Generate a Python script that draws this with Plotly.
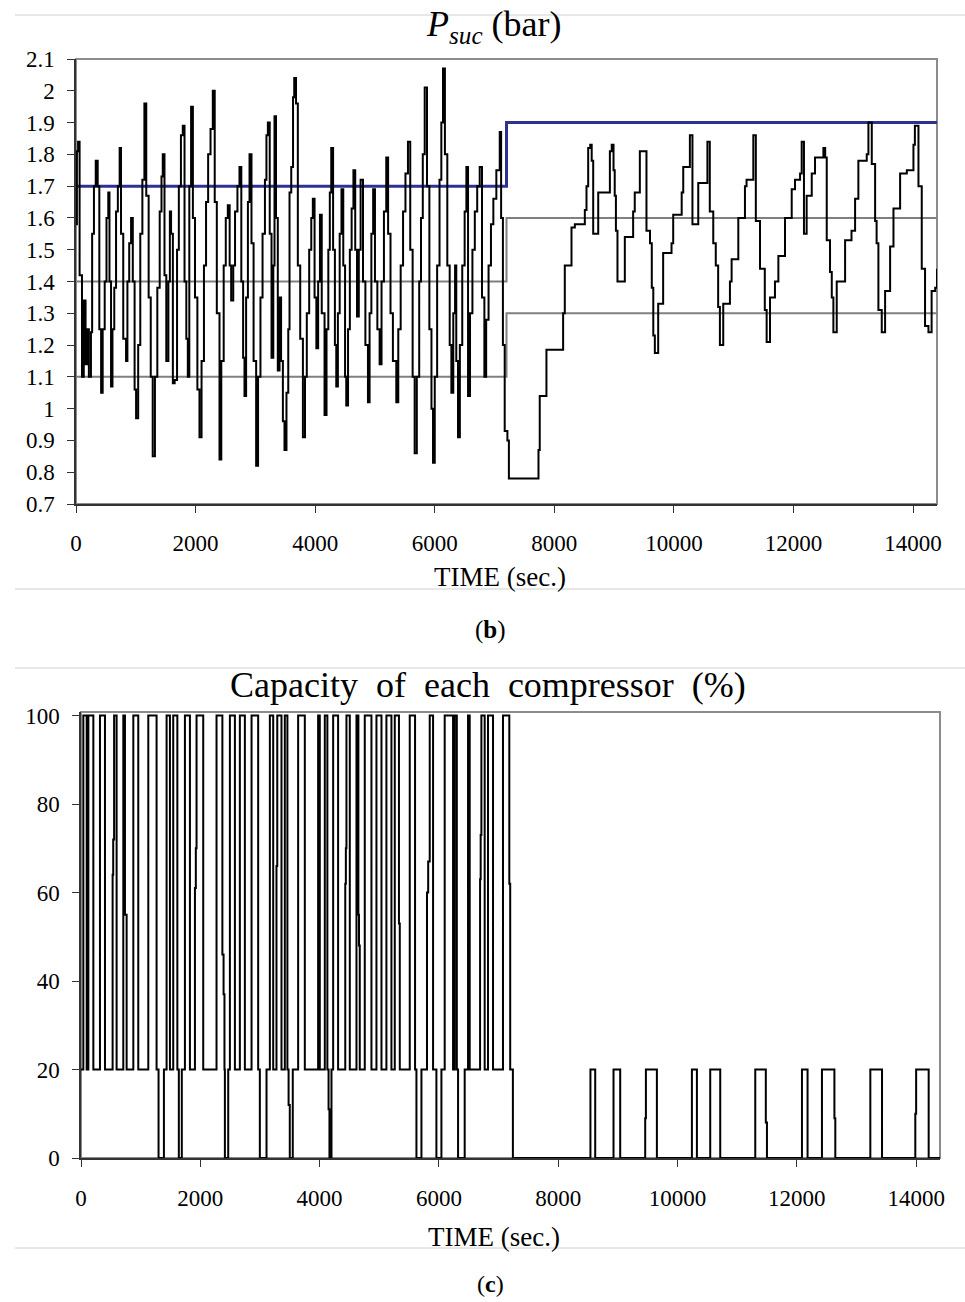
import plotly.graph_objects as go

# ---------------- Suction pressure (bar) ----------------
# first two hours, setpoint 1.7 bar
psuc_t_a = [
    0, 15, 35, 60, 100, 130, 160, 190, 215, 250,
    270, 300, 330, 363, 390, 420, 446, 480, 510, 540,
    560, 586, 610, 640, 670, 700, 730, 753, 790, 837,
    860, 890, 921, 950, 980, 1005, 1040, 1075, 1110, 1144,
    1175, 1215, 1250, 1283, 1320, 1360, 1400, 1430, 1451, 1480,
    1510, 1545, 1570, 1590, 1620, 1650, 1690, 1720, 1755, 1786,
    1815, 1845, 1870, 1895, 1925, 1955, 1990, 2030, 2065, 2100,
    2140, 2175, 2210, 2250, 2288, 2320, 2355, 2400, 2430, 2470,
    2505, 2539, 2570, 2595, 2630, 2660, 2700, 2734, 2765, 2795,
    2818, 2845, 2875, 2902, 2935, 2970, 3013, 3045, 3085, 3120,
    3160, 3185, 3209, 3240, 3270, 3300, 3320, 3345, 3375, 3404,
    3430, 3460, 3487, 3520, 3550, 3571, 3600, 3630, 3650, 3680,
    3710, 3750, 3795, 3830, 3860, 3900, 3935, 3961, 3990, 4020,
    4050, 4080, 4110, 4157, 4190, 4220, 4245, 4269, 4300, 4330,
    4353, 4380, 4410, 4440, 4470, 4500, 4520, 4550, 4580, 4610,
    4640, 4670, 4700, 4730, 4760, 4800, 4840, 4883, 4910, 4940,
    4970, 5000, 5040, 5078, 5110, 5150, 5189, 5220, 5260, 5300,
    5357, 5390, 5430, 5470, 5510, 5552, 5590, 5630, 5664, 5700,
    5740, 5770, 5800, 5832, 5870, 5910, 5945, 5971, 6000, 6040,
    6080, 6110, 6138, 6170, 6210, 6250, 6278, 6310, 6340, 6360,
    6389, 6420, 6460, 6500, 6529, 6557, 6590, 6630, 6670, 6710,
    6752, 6790, 6830, 6860, 6900, 6940, 6980, 7030, 7087, 7110,
    7140, 7170, 7215, 7240,
]
psuc_p_a = [
    1.58, 1.81, 1.84, 1.42, 1.10, 1.34, 1.14, 1.25, 1.10, 1.24,
    1.55, 1.70, 1.78, 1.70, 1.25, 1.05, 1.25, 1.40, 1.60, 1.68,
    1.40, 1.07, 1.25, 1.38, 1.62, 1.70, 1.82, 1.55, 1.22, 1.15,
    1.40, 1.52, 1.60, 1.40, 1.06, 0.97, 1.20, 1.55, 1.72, 1.96,
    1.67, 1.35, 1.10, 0.85, 1.10, 1.38, 1.62, 1.73, 1.80, 1.42,
    1.15, 1.40, 1.62, 1.55, 1.08, 1.09, 1.50, 1.70, 1.86, 1.89,
    1.40, 1.22, 1.10, 1.70, 1.95, 1.60, 1.35, 1.06, 0.91, 1.15,
    1.45, 1.65, 1.80, 1.88, 2.00, 1.65, 1.30, 0.84, 1.15, 1.45,
    1.60, 1.64, 1.45, 1.34, 1.45, 1.62, 1.70, 1.76, 1.40, 1.16,
    1.04, 1.35, 1.65, 1.80, 1.52, 1.15, 0.82, 1.10, 1.35, 1.55,
    1.72, 1.86, 1.90, 1.55, 1.16, 1.45, 1.92, 1.60, 1.12, 1.35,
    1.15, 0.96, 0.87, 1.05, 1.25, 1.68, 1.76, 1.98, 2.04, 1.96,
    1.45, 1.22, 0.91, 1.10, 1.30, 1.50, 1.60, 1.66, 1.35, 1.19,
    1.40, 1.61, 1.30, 0.98, 1.25, 1.50, 1.68, 1.82, 1.50, 1.20,
    1.07, 1.30, 1.55, 1.69, 1.45, 1.10, 1.01, 1.25, 1.50, 1.63,
    1.75, 1.50, 1.29, 1.50, 1.72, 1.40, 1.20, 1.02, 1.30, 1.55,
    1.69, 1.40, 1.25, 1.14, 1.40, 1.62, 1.79, 1.55, 1.30, 1.15,
    1.02, 1.25, 1.45, 1.62, 1.74, 1.84, 1.50, 1.10, 0.86, 1.10,
    1.40, 1.60, 1.80, 2.01, 1.70, 1.25, 1.00, 0.83, 1.10, 1.45,
    1.72, 1.90, 2.07, 1.80, 1.45, 1.20, 1.05, 1.30, 1.45, 1.15,
    0.91, 1.20, 1.45, 1.62, 1.76, 1.04, 1.30, 1.50, 1.62, 1.70,
    1.76, 1.35, 1.10, 1.28, 1.45, 1.58, 1.66, 1.75, 1.87, 1.60,
    1.20, 0.93, 0.90, 0.78,
]
# last two hours, setpoint 1.9 bar
psuc_t_b = [
    7735, 7756, 7868, 8147, 8175, 8287, 8343, 8510, 8538, 8566,
    8600, 8625, 8650, 8706, 8734, 8929, 8960, 8990, 9010, 9030,
    9056, 9179, 9318, 9345, 9430, 9541, 9600, 9630, 9655, 9681,
    9737, 9820, 9960, 9988, 10130, 10156, 10267, 10310, 10407, 10560,
    10600, 10658, 10700, 10740, 10769, 10825, 10937, 10965, 11077, 11188,
    11215, 11328, 11370, 11440, 11520, 11551, 11607, 11690, 11747, 11858,
    11970, 12025, 12110, 12137, 12175, 12220, 12305, 12360, 12500, 12530,
    12556, 12611, 12640, 12667, 12723, 12863, 12970, 13030, 13085, 13225,
    13253, 13309, 13365, 13390, 13420, 13476, 13532, 13616, 13672, 13783,
    13895, 14006, 14030, 14090, 14145, 14200, 14257, 14310, 14370, 14400,
]
psuc_p_b = [
    0.87, 1.04, 1.185, 1.30, 1.45, 1.57, 1.58, 1.625, 1.70, 1.82,
    1.83, 1.78, 1.55, 1.55, 1.68, 1.81, 1.83, 1.75, 1.67, 1.56,
    1.40, 1.54, 1.62, 1.68, 1.81, 1.56, 1.52, 1.38, 1.23, 1.175,
    1.33, 1.49, 1.52, 1.61, 1.68, 1.76, 1.86, 1.58, 1.71, 1.84,
    1.62, 1.52, 1.45, 1.32, 1.20, 1.33, 1.40, 1.47, 1.60, 1.70,
    1.72, 1.86, 1.59, 1.44, 1.31, 1.21, 1.35, 1.40, 1.48, 1.60,
    1.69, 1.72, 1.74, 1.84, 1.55, 1.67, 1.74, 1.79, 1.82, 1.79,
    1.53, 1.43, 1.35, 1.24, 1.40, 1.53, 1.56, 1.66, 1.78, 1.80,
    1.90, 1.77, 1.59, 1.52, 1.31, 1.24, 1.37, 1.51, 1.63, 1.74,
    1.75, 1.83, 1.89, 1.70, 1.44, 1.26, 1.24, 1.37, 1.38, 1.44,
]

# control band: setpoint and the two stage-switching limits
band_t = [0, 7200, 14400]
setpoint_bar = [1.7, 1.9, 1.9]
upper_limit_bar = [1.4, 1.6, 1.6]
lower_limit_bar = [1.1, 1.3, 1.3]

# ---------------- Compressor capacity (%) ----------------
cap_t = [
    0, 39, 95, 123, 207, 318, 402, 530, 540, 555,
    597, 709, 737, 765, 877, 960, 1128, 1267, 1300, 1390,
    1435, 1491, 1546, 1615, 1640, 1690, 1742, 1826, 1910, 1925,
    1937, 2049, 2272, 2370, 2390, 2405, 2412, 2468, 2496, 2580,
    2663, 2747, 2859, 2970, 2998, 3110, 3166, 3222, 3277, 3290,
    3361, 3417, 3460, 3480, 3500, 3550, 3640, 3752, 3975, 4003,
    4087, 4130, 4150, 4165, 4199, 4227, 4310, 4430, 4440, 4450,
    4506, 4618, 4650, 4660, 4673, 4757, 4869, 4953, 5037, 5120,
    5204, 5260, 5330, 5344, 5511, 5600, 5623, 5707, 5800, 5820,
    5846, 5902, 5958, 6042, 6097, 6237, 6265, 6300, 6321, 6432,
    6488, 6516, 6690, 6700, 6712, 6767, 6823, 6907, 7074, 7180,
    7195, 7240, 8540, 8620, 8927, 9039, 9458, 9470, 9654, 10241,
    10325, 10548, 10716, 11303, 11480, 11499, 12086, 12180, 12421, 12630,
    12645, 13232, 13428, 13986, 14000, 14210, 14400,
]
cap_pct = [
    20, 100, 20, 100, 20, 100, 20, 64, 72, 100,
    20, 100, 55, 20, 100, 20, 100, 20, 0, 20,
    100, 20, 100, 20, 0, 20, 100, 20, 61, 70,
    100, 20, 100, 46, 37, 20, 0, 20, 100, 20,
    100, 20, 100, 20, 0, 20, 100, 20, 66, 100,
    20, 100, 20, 12, 0, 20, 100, 20, 100, 20,
    100, 20, 11, 0, 20, 100, 20, 62, 70, 100,
    20, 100, 55, 48, 20, 100, 20, 100, 20, 100,
    20, 100, 53, 20, 100, 20, 0, 20, 60, 67,
    100, 20, 0, 20, 100, 20, 100, 20, 0, 20,
    100, 20, 63, 73, 100, 20, 100, 20, 100, 62,
    20, 0, 20, 0, 20, 0, 9, 20, 0, 20,
    0, 20, 0, 20, 8, 0, 20, 0, 20, 9,
    0, 20, 0, 10, 20, 0, 0,
]

# axis ticks
time_ticks = [0, 2000, 4000, 6000, 8000, 10000, 12000, 14000]
time_labels = ["0", "2000", "4000", "6000", "8000", "10000", "12000", "14000"]
p_ticks = [0.7, 0.8, 0.9, 1.0, 1.1, 1.2, 1.3, 1.4, 1.5, 1.6, 1.7, 1.8, 1.9, 2.0, 2.1]
p_labels = ["0.7", "0.8", "0.9", "1", "1.1", "1.2", "1.3", "1.4", "1.5", "1.6",
            "1.7", "1.8", "1.9", "2", "2.1"]
cap_ticks = [0, 20, 40, 60, 80, 100]
cap_labels = ["0", "20", "40", "60", "80", "100"]

# ---------------- figure ----------------
W, H = 965, 1302
SERIF = "Liberation Serif"


def fx(px):
    return px / W


def fy(py):
    return 1 - py / H


fig = go.Figure()

GRAY = "#808080"
fig.add_trace(go.Scatter(x=band_t, y=upper_limit_bar, mode="lines", line_shape="hv",
                         line=dict(color=GRAY, width=2), xaxis="x", yaxis="y"))
fig.add_trace(go.Scatter(x=band_t, y=lower_limit_bar, mode="lines", line_shape="hv",
                         line=dict(color=GRAY, width=2), xaxis="x", yaxis="y"))
fig.add_trace(go.Scatter(x=band_t, y=setpoint_bar, mode="lines", line_shape="hv",
                         line=dict(color="#2e3192", width=3), xaxis="x", yaxis="y"))
fig.add_trace(go.Scatter(x=psuc_t_a + psuc_t_b, y=psuc_p_a + psuc_p_b, mode="lines",
                         line_shape="hv", line=dict(color="black", width=2),
                         xaxis="x", yaxis="y"))
fig.add_trace(go.Scatter(x=cap_t, y=cap_pct, mode="lines", line_shape="hv",
                         line=dict(color="black", width=2), xaxis="x2", yaxis="y2"))

tick_font = dict(family=SERIF, size=23, color="black")
axis_common = dict(showgrid=False, zeroline=False, showline=True, linecolor="#333333",
                   linewidth=1.5, ticks="outside", ticklen=7, tickwidth=1.2,
                   tickcolor="#333333", tickfont=tick_font, automargin=False)

fig.update_layout(
    width=W, height=H, margin=dict(l=0, r=0, t=0, b=0, pad=0),
    paper_bgcolor="white", plot_bgcolor="white", showlegend=False,
    xaxis=dict(domain=[fx(76), fx(937)], range=[0, 14400], anchor="y",
               tickvals=time_ticks, ticktext=time_labels, ticklabelstandoff=11,
               **axis_common),
    yaxis=dict(domain=[fy(504), fy(59)], range=[0.7, 2.1], anchor="x",
               tickvals=p_ticks, ticktext=p_labels, ticklabelstandoff=8,
               **axis_common),
    xaxis2=dict(domain=[fx(81), fx(940)], range=[0, 14400], anchor="y2",
                tickvals=time_ticks, ticktext=time_labels, ticklabelstandoff=12,
                **axis_common),
    yaxis2=dict(domain=[fy(1158), fy(712)], range=[0, 100.8], anchor="x2",
                tickvals=cap_ticks, ticktext=cap_labels, ticklabelstandoff=8,
                **axis_common),
)

# plot-area frames
for xr, yr in (("x domain", "y domain"), ("x2 domain", "y2 domain")):
    fig.add_shape(type="rect", xref=xr, yref=yr, x0=0, x1=1, y0=0, y1=1,
                  line=dict(color="#8c8c8c", width=2), layer="below")

# thin rules separating the panels
for py in (15, 589, 668, 1248):
    fig.add_shape(type="line", xref="paper", yref="paper", x0=fx(15), x1=1,
                  y0=fy(py), y1=fy(py), line=dict(color="#d0d0d0", width=1))

texts = [
    (494, 27, "<i>P</i><sub><i>suc</i></sub> (bar)", 36),
    (500, 577, "TIME (sec.)", 27),
    (491, 630, "(<b>b</b>)", 25),
    (488, 685, "Capacity\u00a0 of\u00a0 each\u00a0 compressor\u00a0 (%)", 36),
    (494, 1237, "TIME (sec.)", 27),
    (491, 1284, "(<b>c</b>)", 24),
]
for px, py, txt, size in texts:
    fig.add_annotation(x=fx(px), y=fy(py), xref="paper", yref="paper", text=txt,
                       showarrow=False, xanchor="center", yanchor="middle",
                       font=dict(family=SERIF, size=size, color="black"))

fig.write_html("out.html")
